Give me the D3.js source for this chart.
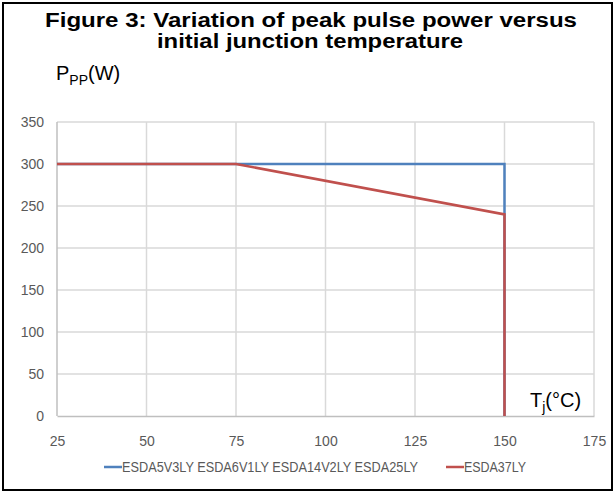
<!DOCTYPE html>
<html>
<head>
<meta charset="utf-8">
<script src="https://cdn.jsdelivr.net/npm/d3@7"></script>
<style>
  body { margin: 0; background: #fff; }
  svg { display: block; }
</style>
</head>
<body>
<div id="chart"></div>
<script>
// data
const seriesNames = ["ESDA5V3LY ESDA6V1LY ESDA14V2LY ESDA25LY", "ESDA37LY"];
const blueX = [25, 150, 150];
const blueY = [300, 300, 0];
const redX = [25, 75, 150, 150];
const redY = [300, 300, 240, 0];
const xTicks = [25, 50, 75, 100, 125, 150, 175];
const yTicks = [0, 50, 100, 150, 200, 250, 300, 350];

const svgWidth = 615;
const svgHeight = 493;
const margin = { top: 122, left: 57, right: 21, bottom: 77 };
const width = svgWidth - margin.left - margin.right;
const height = svgHeight - margin.top - margin.bottom;

const tickFont = "'Liberation Sans', Arial, sans-serif";

const svg = d3.select('#chart')
  .append('svg')
  .attr('width', svgWidth)
  .attr('height', svgHeight);

// outer frame
svg.append('rect')
  .attr('x', 3).attr('y', 3)
  .attr('width', 609).attr('height', 487)
  .attr('fill', 'none')
  .attr('stroke', '#000')
  .attr('stroke-width', 2);

// title
const title = svg.append('g')
  .attr('font-family', 'Arial, Liberation Sans, sans-serif')
  .attr('font-weight', 'bold')
  .attr('font-size', '20px')
  .attr('fill', '#000');
title.append('text').attr('x', 45).attr('y', 27)
  .attr('textLength', 532).attr('lengthAdjust', 'spacingAndGlyphs')
  .text('Figure 3: Variation of peak pulse power versus');
title.append('text').attr('x', 157).attr('y', 48)
  .attr('textLength', 306).attr('lengthAdjust', 'spacingAndGlyphs')
  .text('initial junction temperature');

const g = svg.append('g')
  .attr('transform', `translate(${margin.left}, ${margin.top})`);

const x = d3.scaleLinear().domain([25, 175]).range([0, width]);
const y = d3.scaleLinear().domain([0, 350]).range([height, 0]);

// grid
g.selectAll('.hgrid')
  .data(yTicks.slice(1))
  .enter()
  .append('line')
  .attr('x1', 0).attr('x2', width)
  .attr('y1', d => y(d)).attr('y2', d => y(d))
  .attr('stroke', '#d9d9d9')
  .attr('stroke-width', 1.5);

g.selectAll('.vgrid')
  .data(xTicks)
  .enter()
  .append('line')
  .attr('x1', d => x(d)).attr('x2', d => x(d))
  .attr('y1', 0).attr('y2', height)
  .attr('stroke', d => d === 25 ? '#bfbfbf' : '#d9d9d9')
  .attr('stroke-width', 1.5);

// x axis
const xAxis = g.append('g')
  .attr('transform', `translate(0,${height})`)
  .call(d3.axisBottom(x).tickValues(xTicks).tickSize(0).tickPadding(20));
xAxis.select('.domain').attr('stroke', '#bfbfbf').attr('stroke-width', 1.5);
xAxis.selectAll('text').attr('font-family', tickFont).attr('font-size', '14px').attr('fill', '#595959');

// y axis
const yAxis = g.append('g')
  .call(d3.axisLeft(y).tickValues(yTicks).tickSize(0).tickPadding(13));
yAxis.select('.domain').remove();
yAxis.selectAll('text').attr('font-family', tickFont).attr('font-size', '14px').attr('fill', '#595959');

// lines
const line = d3.line().x(d => x(d[0])).y(d => y(d[1]));

g.append('path')
  .datum(blueX.map((v, i) => [v, blueY[i]]))
  .attr('d', line)
  .attr('fill', 'none')
  .attr('stroke', '#4f81bd')
  .attr('stroke-width', 2.5);

g.append('path')
  .datum(redX.map((v, i) => [v, redY[i]]))
  .attr('d', line)
  .attr('fill', 'none')
  .attr('stroke', '#c0504d')
  .attr('stroke-width', 2.5);

// axis titles
const yTitle = svg.append('text')
  .attr('x', 56).attr('y', 80)
  .attr('font-family', 'Arial, Liberation Sans, sans-serif')
  .attr('font-size', '20px')
  .attr('fill', '#000');
yTitle.append('tspan').text('P');
yTitle.append('tspan').attr('font-size', '14px').attr('dy', 5).text('PP');
yTitle.append('tspan').attr('dy', -5).text('(W)');

svg.append('rect')
  .attr('x', 527).attr('y', 384)
  .attr('width', 66).attr('height', 31)
  .attr('fill', '#fff');
const xTitle = svg.append('text')
  .attr('x', 530).attr('y', 407)
  .attr('font-family', 'Arial, Liberation Sans, sans-serif')
  .attr('font-size', '20px')
  .attr('fill', '#000');
xTitle.append('tspan').text('T');
xTitle.append('tspan').attr('font-size', '14px').attr('dy', 5).text('j');
xTitle.append('tspan').attr('dy', -5).text('(°C)');

// legend
const legendColors = ['#4f81bd', '#c0504d'];
const legendX = [104, 446];
const legendW = [296, 62];
const legend = svg.selectAll('.legend')
  .data(seriesNames)
  .enter()
  .append('g')
  .attr('transform', (d, i) => `translate(${legendX[i]}, 467)`);
legend.append('line')
  .attr('x1', 0).attr('x2', 18)
  .attr('stroke', (d, i) => legendColors[i])
  .attr('stroke-width', 2.5);
legend.append('text')
  .attr('x', 18).attr('y', 5)
  .attr('font-family', tickFont)
  .attr('font-size', '14px')
  .attr('fill', '#595959')
  .attr('textLength', (d, i) => legendW[i])
  .attr('lengthAdjust', 'spacingAndGlyphs')
  .text(d => d);
</script>
</body>
</html>
